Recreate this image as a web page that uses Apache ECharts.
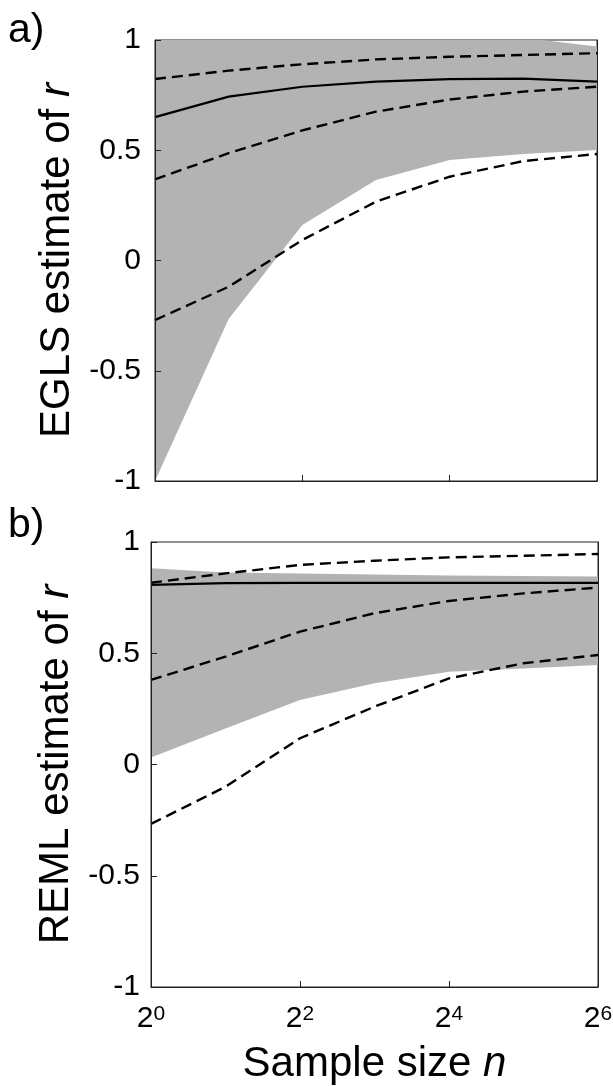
<!DOCTYPE html>
<html>
<head>
<meta charset="utf-8">
<script src="https://cdn.jsdelivr.net/npm/echarts@6/dist/echarts.min.js"></script>
<style>
  html, body { margin: 0; padding: 0; background: #fff; }
  #chart { width: 613px; height: 1086px; }
</style>
</head>
<body>
<div id="chart"></div>
<script>
// sample size n = 2^k
const sampleExp = [0, 1, 2, 3, 4, 5, 6];
const yTicks = [-1, -0.5, 0, 0.5, 1];

// a) EGLS
const eglsMedian = [0.65, 0.743, 0.788, 0.811, 0.823, 0.825, 0.811];
const eglsBandHi = [1.0, 1.0, 1.0, 1.0, 1.0, 1.01, 0.97];
const eglsBandLo = [-1.0, -0.265, 0.161, 0.365, 0.456, 0.483, 0.501];
const eglsQHi = [0.823, 0.861, 0.89, 0.912, 0.924, 0.932, 0.94];
const eglsQMid = [0.368, 0.487, 0.59, 0.675, 0.73, 0.766, 0.788];
const eglsQLo = [-0.27, -0.119, 0.093, 0.267, 0.38, 0.451, 0.483];

// b) REML
const remlMedian = [0.807, 0.815, 0.816, 0.816, 0.816, 0.816, 0.816];
const remlBandHi = [0.882, 0.863, 0.858, 0.854, 0.85, 0.847, 0.845];
const remlBandLo = [0.031, 0.162, 0.29, 0.365, 0.417, 0.432, 0.447];
const remlQHi = [0.817, 0.859, 0.897, 0.916, 0.931, 0.938, 0.946];
const remlQMid = [0.38, 0.485, 0.597, 0.68, 0.735, 0.769, 0.795];
const remlQLo = [-0.267, -0.1, 0.118, 0.26, 0.387, 0.455, 0.492];

const FONT = "'Liberation Sans', Arial, Helvetica, sans-serif";
const chart = echarts.init(document.getElementById('chart'));

function pairs(ys) {
    return sampleExp.map((x, i) => [x, ys[i]]);
}

// gray band as a polygon between lo and hi
function band(idx, lo, hi) {
    return {
        type: 'custom',
        xAxisIndex: idx, yAxisIndex: idx * 2,
        clip: true,
        silent: true,
        z: 1,
        data: [0],
        renderItem: function (params, api) {
            const pts = [];
            for (let i = 0; i < sampleExp.length; i++) pts.push(api.coord([sampleExp[i], hi[i]]));
            for (let i = sampleExp.length - 1; i >= 0; i--) pts.push(api.coord([sampleExp[i], lo[i]]));
            return { type: 'polygon', shape: { points: pts }, style: { fill: '#b3b3b3' } };
        }
    };
}

function line(idx, ys, dashed) {
    return {
        type: 'line',
        xAxisIndex: idx, yAxisIndex: idx * 2,
        data: pairs(ys),
        symbol: 'none',
        silent: true,
        z: 3,
        lineStyle: { color: '#000', width: dashed ? 2.4 : 2.2, type: dashed ? [11, 6] : 'solid' }
    };
}

function xAxis(idx, showLabels) {
    return {
        type: 'value', gridIndex: idx, min: 0, max: 6, interval: 2,
        z: 5,
        axisLine: { show: true, onZero: false, lineStyle: { color: '#222', width: 1 } },
        axisTick: { show: true, inside: true, length: 6, lineStyle: { color: '#222' } },
        splitLine: { show: false },
        axisLabel: {
            show: showLabels, margin: 17, fontFamily: FONT, color: '#000',
            formatter: v => '{b|2}{s|' + v + '}',
            rich: {
                b: { fontSize: 30, lineHeight: 30, fontFamily: FONT, color: '#000' },
                s: { fontSize: 21, lineHeight: 21, fontFamily: FONT, color: '#000', verticalAlign: 'top' }
            }
        },
        name: showLabels ? 'Sample size {i|n}' : '',
        nameLocation: 'middle',
        nameGap: 56,
        nameTextStyle: {
            fontSize: 42, fontFamily: FONT, color: '#000',
            rich: { i: { fontSize: 42, fontFamily: FONT, fontStyle: 'italic', color: '#000' } }
        }
    };
}

function yAxes(idx, title, margin) {
    return [{
        type: 'value', gridIndex: idx, min: -1, max: 1, interval: 0.5,
        z: 5,
        axisLine: { show: true, lineStyle: { color: '#222', width: 1 } },
        axisTick: { show: true, inside: true, length: 6, lineStyle: { color: '#222' } },
        splitLine: { show: false },
        axisLabel: { fontSize: 30, fontFamily: FONT, color: '#000', margin: margin, formatter: v => String(v) },
        name: title + ' estimate of {i|r}',
        nameLocation: 'middle',
        nameGap: 70,
        nameTextStyle: {
            fontSize: 42, fontFamily: FONT, color: '#000',
            rich: { i: { fontSize: 42, fontFamily: FONT, fontStyle: 'italic', color: '#000' } }
        }
    }, {
        type: 'value', gridIndex: idx, min: -1, max: 1, interval: 0.5, position: 'right',
        z: 5,
        axisLine: { show: true, lineStyle: { color: '#222', width: 1 } },
        axisTick: { show: false }, axisLabel: { show: false }, splitLine: { show: false }
    }];
}

const option = {
    animation: false,
    backgroundColor: '#fff',
    title: [
        { text: 'a)', left: 8, top: 10, padding: 0, textStyle: { fontSize: 41, fontWeight: 'normal', fontFamily: FONT, color: '#000' } },
        { text: 'b)', left: 8, top: 505, padding: 0, textStyle: { fontSize: 41, fontWeight: 'normal', fontFamily: FONT, color: '#000' } }
    ],
    grid: [
        { left: 155, top: 40, width: 442, height: 441, show: true, borderColor: '#222', borderWidth: 1, containLabel: false, outerBoundsMode: 'none' },
        { left: 151, top: 542, width: 447, height: 445, show: true, borderColor: '#222', borderWidth: 1, containLabel: false, outerBoundsMode: 'none' }
    ],
    xAxis: [xAxis(0, false), xAxis(1, true)],
    yAxis: yAxes(0, 'EGLS', 14).concat(yAxes(1, 'REML', 11)),
    series: [
        band(0, eglsBandLo, eglsBandHi),
        line(0, eglsMedian, false),
        line(0, eglsQHi, true),
        line(0, eglsQMid, true),
        line(0, eglsQLo, true),
        band(1, remlBandLo, remlBandHi),
        line(1, remlMedian, false),
        line(1, remlQHi, true),
        line(1, remlQMid, true),
        line(1, remlQLo, true)
    ]
};

chart.setOption(option);
</script>
</body>
</html>
